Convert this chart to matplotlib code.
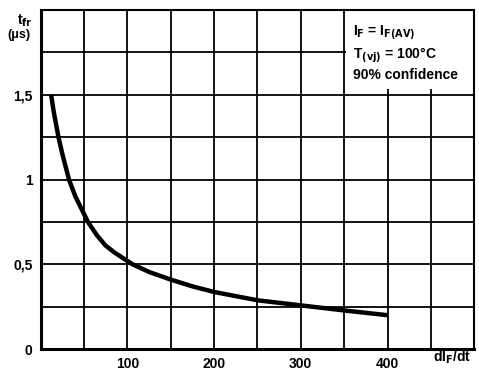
import matplotlib.pyplot as plt
from matplotlib.patches import Rectangle
from matplotlib.ticker import FixedLocator, NullFormatter

# curve
didt = [12, 15, 20.5, 25, 32.6, 40, 54.5, 65, 75, 85, 106, 125, 150, 175, 200, 250, 300, 350, 400]
tfr = [1.5, 1.4, 1.25, 1.15, 1.0, 0.9, 0.75, 0.67, 0.61, 0.57, 0.5, 0.455, 0.41, 0.37, 0.337, 0.288, 0.258, 0.228, 0.2]

xticks = [100, 200, 300, 400]
xticklabels = ["100", "200", "300", "400"]
yticks = [0, 0.5, 1, 1.5]
yticklabels = ["0", "0,5", "1", "1,5"]

plt.rcParams['font.family'] = ['Liberation Sans', 'DejaVu Sans']
plt.rcParams['font.weight'] = 'bold'

fig = plt.figure(figsize=(4.79, 3.71), dpi=100)
ax = fig.add_axes([0.085, 0.059, 0.905, 0.914])

ax.plot(didt, tfr, color='black', lw=3.2, solid_capstyle='butt', solid_joinstyle='round', zorder=3)

ax.set_xlim(0, 500)
ax.set_ylim(0, 2)
ax.xaxis.set_minor_locator(FixedLocator(range(50, 500, 50)))
ax.yaxis.set_minor_locator(FixedLocator([0.25 * i for i in range(1, 8)]))
ax.xaxis.set_minor_formatter(NullFormatter())
ax.set_xticks(xticks)
ax.set_xticklabels(xticklabels)
ax.set_yticks(yticks)
ax.set_yticklabels(yticklabels)
ax.grid(True, which='both', color='black', lw=1.3)
ax.tick_params(which='both', length=0, labelsize=10, pad=6)
for s in ax.spines.values():
    s.set_linewidth(1.5)
ax.spines['left'].set_linewidth(2.2)
ax.spines['bottom'].set_linewidth(2.2)

# white box hiding the grid behind the conditions
ax.add_patch(Rectangle((352, 1.535), 148, 0.46, facecolor='white', edgecolor='none', zorder=2.5))
ax.text(0.72, 0.962, "I$_\\mathbf{F}$ = I$_\\mathbf{F(AV)}$\nT$_\\mathbf{(vj)}$ = 100°C\n90% confidence",
        transform=ax.transAxes, ha='left', va='top', fontsize=10, linespacing=1.3, zorder=4)

fig.text(0.035, 0.965, "t$_\\mathbf{fr}$", fontsize=10, ha='left', va='top')
fig.text(0.015, 0.905, "(μs)", fontsize=9, ha='left', va='center')
fig.text(0.905, 0.038, "dI$_\\mathbf{F}$/dt", fontsize=10, ha='left', va='center')

fig.savefig("out.png", dpi=100)
